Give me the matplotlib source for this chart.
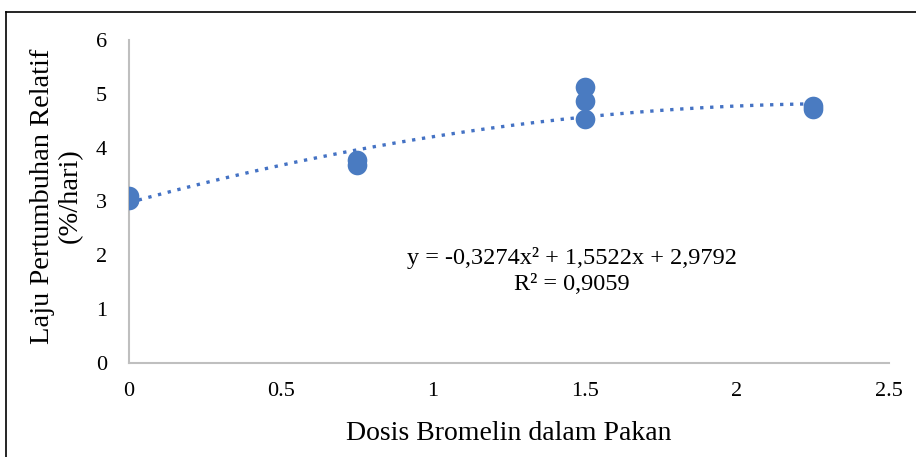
import matplotlib
matplotlib.use("Agg")
import matplotlib.pyplot as plt
from matplotlib.lines import Line2D
import numpy as np

plt.rcParams['font.family'] = ['Liberation Serif', 'DejaVu Serif']

dose = [0, 0, 0, 0.75, 0.75, 1.5, 1.5, 1.5, 2.25, 2.25]
growth = [3.10, 3.05, 3.02, 3.77, 3.68, 5.13, 4.87, 4.53, 4.78, 4.72]
coef = [-0.3274, 1.5522, 2.9792]
x_ticks = [0, 0.5, 1, 1.5, 2, 2.5]
x_tick_labels = ['0', '0.5', '1', '1.5', '2', '2.5']
y_ticks = [0, 1, 2, 3, 4, 5, 6]

W, H = 916, 457
fig = plt.figure(figsize=(W/100, H/100), dpi=100)
ax = fig.add_axes([129/W, 1-363/H, (889-129)/W, (363-40)/H])

color = '#4A7BC1'
xs = np.linspace(0, 2.25, 200)
ax.plot(xs, np.polyval(coef, xs), linestyle=(0, (1, 2.0)), color='#4472C4', lw=2.4, zorder=2)
ax.scatter(dose, growth, s=200, color=color, zorder=3, linewidths=0)

ax.set_xlim(0, 2.5)
ax.set_ylim(0, 6)
ax.set_xticks(x_ticks)
ax.set_xticklabels(x_tick_labels)
ax.set_yticks(y_ticks)
ax.tick_params(length=0, labelsize=16, pad=14)
ax.tick_params(axis='y', pad=16)
for s in ['top', 'right']:
    ax.spines[s].set_visible(False)
for s in ['left', 'bottom']:
    ax.spines[s].set_color('#BFBFBF')
    ax.spines[s].set_linewidth(1.5)

ax.set_xlabel('Dosis Bromelin dalam Pakan', fontsize=20, labelpad=14)
fig.text(56/W, 1-196/H, 'Laju Pertumbuhan Relatif\n(%/hari)', rotation=90,
         ha='center', va='center', fontsize=20.5, linespacing=1.15)

ax.text(572/W, 1-258/H, 'y = -0,3274x² + 1,5522x + 2,9792', transform=fig.transFigure,
        ha='center', va='center', fontsize=17.5)
ax.text(572/W, 1-284/H, 'R² = 0,9059', transform=fig.transFigure,
        ha='center', va='center', fontsize=17.5)

fig.add_artist(Line2D([6/W, 1], [1-12/H, 1-12/H], color='black', lw=1.2, transform=fig.transFigure))
fig.add_artist(Line2D([6/W, 6/W], [0, 1-12/H], color='black', lw=1.2, transform=fig.transFigure))

fig.savefig('out.png', dpi=100)
